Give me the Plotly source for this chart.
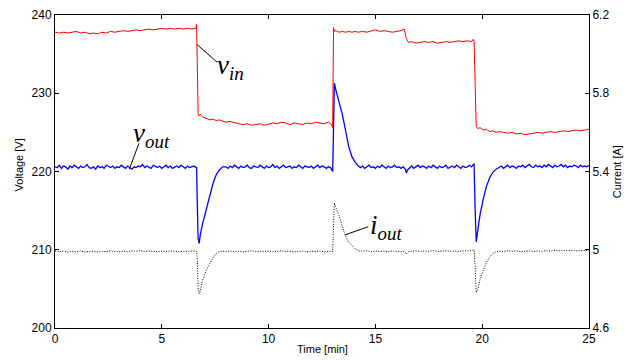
import plotly.graph_objects as go

# sample times [min] for v_in and i_out
t = [0.0, 0.2, 0.4, 0.6, 0.8, 1.0, 1.2, 1.4, 1.6, 1.8, 2.0, 2.2, 2.4, 2.6, 2.8, 3.0, 3.2, 3.4, 3.6, 3.8,
     4.0, 4.2, 4.4, 4.6, 4.8, 5.0, 5.2, 5.4, 5.6, 5.8, 6.0, 6.2, 6.4, 6.6,
     6.63, 6.66, 6.7, 6.75, 6.8, 6.9, 7.0, 7.1, 7.25, 7.4, 7.55, 7.7, 7.85,
     8.0, 8.2, 8.4, 8.6, 8.8, 9.0, 9.2, 9.4, 9.6, 9.8, 10.0, 10.2, 10.4, 10.6, 10.8, 11.0, 11.2, 11.4,
     11.6, 11.8, 12.0, 12.2, 12.4, 12.6, 12.8,
     12.95, 13.0, 13.04, 13.08, 13.15, 13.3, 13.45, 13.6, 13.75, 13.9, 14.05, 14.2,
     14.4, 14.6, 14.8, 15.0, 15.2, 15.4, 15.6, 15.8, 16.0, 16.2,
     16.35, 16.45, 16.55,
     16.7, 16.9, 17.1, 17.3, 17.5, 17.7, 17.9, 18.1, 18.3, 18.5, 18.7, 18.9, 19.1, 19.3, 19.5,
     19.58, 19.62, 19.66, 19.72, 19.8, 19.9, 20.05, 20.2, 20.35, 20.5, 20.65,
     20.8, 21.0, 21.2, 21.4, 21.6, 21.8, 22.0, 22.2, 22.4, 22.6, 22.8, 23.0, 23.2, 23.4, 23.6, 23.8,
     24.0, 24.2, 24.4, 24.6, 24.8, 25.0]

# input voltage [V]
v_in = [237.8, 237.7, 237.8, 237.7, 237.8, 237.9, 237.7, 237.8, 237.6, 237.7, 237.6, 237.8, 237.7, 237.9,
        237.8, 237.9, 238.0, 237.9, 238.0, 238.1, 238.0, 238.1, 238.2, 238.1, 238.2, 238.3, 238.2, 238.3,
        238.2, 238.3, 238.2, 238.3, 238.2, 238.3,
        238.8, 231.0, 227.4, 227.1, 227.3, 227.0, 226.9, 226.8, 226.6, 226.7, 226.5, 226.6, 226.4,
        226.3, 226.4, 226.2, 226.1, 226.0, 226.1, 225.9, 226.0, 226.1, 225.9, 226.1, 226.2, 226.1, 226.3,
        226.2, 226.0, 226.2, 226.1, 226.0, 226.2, 226.1, 226.3, 226.2, 226.1, 226.3,
        226.0, 225.6, 238.4, 237.9, 238.0, 237.8, 237.9, 237.8, 237.9, 237.8, 237.9, 237.8,
        237.9, 237.8, 238.0, 238.1, 237.9, 238.0, 237.9, 237.8, 237.9, 238.0,
        238.2, 237.0, 236.5,
        236.6, 236.4, 236.5, 236.6, 236.5, 236.6, 236.4, 236.5, 236.6, 236.5, 236.6, 236.7, 236.6, 236.7, 236.6,
        236.9, 236.6, 230.0, 225.7, 225.5, 225.6, 225.3, 225.4, 225.1, 225.2, 225.0,
        225.1, 225.0, 224.9, 225.0, 224.8, 224.9, 224.7, 224.8, 224.9, 225.0, 224.9, 225.0, 225.1, 225.0,
        225.1, 225.2, 225.1, 225.2, 225.3, 225.2, 225.3, 225.4]

# output current [A]
i_out = [4.995, 4.990, 4.993, 4.988, 4.992, 4.990, 4.994, 4.989, 4.991, 4.993, 4.988, 4.992, 4.990, 4.994,
         4.991, 4.989, 4.993, 4.990, 4.995, 4.992, 4.996, 4.991, 4.994, 4.992, 4.990, 4.993, 4.991, 4.994,
         4.992, 4.990, 4.993, 4.991, 4.994, 4.993,
         4.992, 4.950, 4.800, 4.775, 4.790, 4.840, 4.875, 4.900, 4.930, 4.960, 4.982, 4.990, 4.993,
         4.991, 4.994, 4.990, 4.993, 4.989, 4.992, 4.995, 4.990, 4.993, 4.991, 4.994, 4.990, 4.992, 4.995,
         4.991, 4.993, 4.989, 4.992, 4.994, 4.990, 4.993, 4.991, 4.994, 4.990, 4.992,
         4.991, 4.990, 5.150, 5.240, 5.215, 5.175, 5.120, 5.070, 5.040, 5.020, 5.005, 4.995,
         4.992, 4.995, 4.990, 4.994, 4.991, 4.993, 4.990, 4.994, 4.992, 4.990,
         4.993, 4.978, 4.990,
         4.993, 4.995, 4.991, 4.994, 4.992, 4.996, 4.991, 4.993, 4.995, 4.992, 4.994, 4.991, 4.995, 4.993, 4.996,
         4.998, 5.000, 4.930, 4.780, 4.800, 4.850, 4.895, 4.935, 4.962, 4.980, 4.990,
         4.993, 4.991, 4.995, 4.992, 4.994, 4.990, 4.993, 4.995, 4.991, 4.994, 4.992, 4.996, 4.993, 4.997,
         4.994, 4.998, 4.995, 4.997, 4.994, 4.996, 4.995, 4.997]

# sample times [min] for v_out (denser, it is noisier)
t_out = [0.0, 0.1, 0.2, 0.3, 0.4, 0.5, 0.6, 0.7, 0.8, 0.9, 1.0, 1.1, 1.2, 1.3, 1.4, 1.5, 1.6, 1.7, 1.8, 1.9,
         2.0, 2.1, 2.2, 2.3, 2.4, 2.5, 2.6, 2.7, 2.8, 2.9, 3.0, 3.1, 3.2, 3.3, 3.4, 3.5, 3.6, 3.7, 3.8, 3.9,
         4.0, 4.1, 4.2, 4.3, 4.4, 4.5, 4.6, 4.7, 4.8, 4.9, 5.0, 5.1, 5.2, 5.3, 5.4, 5.5, 5.6, 5.7, 5.8, 5.9,
         6.0, 6.1, 6.2, 6.3, 6.4, 6.5, 6.6,
         6.63, 6.66, 6.7, 6.75, 6.8, 6.9, 7.0, 7.1, 7.25, 7.4, 7.55, 7.7, 7.85,
         8.0, 8.1, 8.2, 8.3, 8.4, 8.5, 8.6, 8.7, 8.8, 8.9, 9.0, 9.1, 9.2, 9.3, 9.4, 9.5, 9.6, 9.7, 9.8, 9.9,
         10.0, 10.1, 10.2, 10.3, 10.4, 10.5, 10.6, 10.7, 10.8, 10.9, 11.0, 11.1, 11.2, 11.3, 11.4, 11.5,
         11.6, 11.7, 11.8, 11.9, 12.0, 12.1, 12.2, 12.3, 12.4, 12.5, 12.6, 12.7, 12.8, 12.9,
         13.0, 13.04, 13.08, 13.15, 13.3, 13.45, 13.6, 13.75, 13.9, 14.05, 14.2,
         14.3, 14.4, 14.5, 14.6, 14.7, 14.8, 14.9, 15.0, 15.1, 15.2, 15.3, 15.4, 15.5, 15.6, 15.7, 15.8,
         15.9, 16.0, 16.1, 16.2, 16.3,
         16.4, 16.45, 16.5,
         16.6, 16.7, 16.8, 16.9, 17.0, 17.1, 17.2, 17.3, 17.4, 17.5, 17.6, 17.7, 17.8, 17.9, 18.0, 18.1,
         18.2, 18.3, 18.4, 18.5, 18.6, 18.7, 18.8, 18.9, 19.0, 19.1, 19.2, 19.3, 19.4, 19.5,
         19.58, 19.62, 19.66, 19.72, 19.8, 19.9, 20.05, 20.2, 20.35, 20.5, 20.65,
         20.8, 20.9, 21.0, 21.1, 21.2, 21.3, 21.4, 21.5, 21.6, 21.7, 21.8, 21.9, 22.0, 22.1, 22.2, 22.3,
         22.4, 22.5, 22.6, 22.7, 22.8, 22.9, 23.0, 23.1, 23.2, 23.3, 23.4, 23.5, 23.6, 23.7, 23.8, 23.9,
         24.0, 24.1, 24.2, 24.3, 24.4, 24.5, 24.6, 24.7, 24.8, 24.9, 25.0]

# output voltage [V]
v_out = [220.6, 220.5, 220.8, 220.4, 220.7, 220.6, 220.3, 220.7, 220.5, 220.8,
         220.6, 220.4, 220.7, 220.5, 220.6, 220.9, 220.5, 220.4, 220.6, 220.3,
         220.7, 220.5, 220.6, 220.4, 220.8, 220.6, 220.5, 220.7, 220.4, 220.6,
         220.5, 220.8, 220.6, 220.4, 220.7, 220.5, 220.3, 220.6, 220.5, 220.7,
         220.6, 220.9, 220.5, 220.7, 220.6, 220.4, 220.8, 220.6, 220.5, 220.7,
         220.4, 220.6, 220.8, 220.5, 220.7, 220.4, 220.6, 220.7, 220.5, 220.8,
         220.6, 220.4, 220.7, 220.5, 220.6, 220.7, 220.5,
         220.5, 216.0, 211.5, 210.8, 211.9, 213.2, 214.3, 215.2, 216.9, 218.5, 219.6, 220.2, 220.6,
         220.6, 220.4, 220.7, 220.5, 220.8, 220.6, 220.4, 220.7, 220.5, 220.6,
         220.8, 220.5, 220.4, 220.7, 220.6, 220.5, 220.8, 220.6, 220.4, 220.7,
         220.5, 220.6, 220.9, 220.5, 220.7, 220.4, 220.6, 220.8, 220.5, 220.6,
         220.7, 220.4, 220.6, 220.5, 220.8, 220.6, 220.4, 220.7, 220.6, 220.5,
         220.7, 220.4, 220.6, 220.8, 220.5, 220.7, 220.6, 220.4, 220.6, 220.5,
         220.0, 228.0, 231.3, 230.4, 229.0, 227.3, 225.3, 223.2, 221.9, 221.2, 220.7,
         220.5, 220.7, 220.4, 220.6, 220.8, 220.5, 220.6, 220.4, 220.7, 220.5,
         220.8, 220.6, 220.4, 220.7, 220.5, 220.6, 220.8, 220.5, 220.6, 220.4, 220.6,
         220.3, 219.8, 220.2,
         220.5, 220.7, 220.4, 220.6, 220.8, 220.5, 220.7, 220.6, 220.4, 220.7,
         220.5, 220.8, 220.6, 220.4, 220.7, 220.5, 220.6, 220.8, 220.4, 220.6,
         220.7, 220.5, 220.8, 220.6, 220.4, 220.7, 220.5, 220.6, 220.8, 220.6,
         220.8, 221.0, 216.0, 211.0, 212.6, 214.5, 216.5, 218.1, 219.2, 219.9, 220.3,
         220.5, 220.7, 220.4, 220.6, 220.8, 220.5, 220.7, 220.6, 220.4, 220.7,
         220.6, 220.8, 220.5, 220.7, 220.9, 220.6, 220.5, 220.8, 220.6, 220.7,
         220.5, 220.8, 220.6, 220.9, 220.7, 220.5, 220.8, 220.6, 220.7, 220.9,
         220.6, 220.8, 220.5, 220.7, 220.6, 220.8, 220.7, 220.5, 220.8, 220.6,
         220.7, 220.6, 220.8]

x_ticks = [0, 5, 10, 15, 20, 25]
v_ticks = [200, 210, 220, 230, 240]
i_ticks = [4.6, 5.0, 5.4, 5.8, 6.2]
i_tick_labels = ["4.6", "5", "5.4", "5.8", "6.2"]

font_sans = "Liberation Sans, Arial, sans-serif"
font_serif = "Liberation Serif, Times New Roman, serif"

fig = go.Figure()
fig.add_trace(go.Scatter(x=t, y=v_in, mode="lines", line=dict(color="#ff0000", width=1),
                         name="v_in", showlegend=False))
fig.add_trace(go.Scatter(x=t_out, y=v_out, mode="lines", line=dict(color="#0000ff", width=1.3),
                         name="v_out", showlegend=False))
fig.add_trace(go.Scatter(x=t, y=i_out, mode="lines", yaxis="y2",
                         line=dict(color="#000000", width=1, dash="1px,1.5px"),
                         name="i_out", showlegend=False))

# leader lines to labels
leaders = [
    (6.66, 236.2, 7.60, 233.95),
    (3.48, 220.3, 3.93, 223.6),
    (13.58, 211.9, 14.67, 212.95),
]
for x0, y0, x1, y1 in leaders:
    fig.add_shape(type="line", xref="x", yref="y", x0=x0, y0=y0, x1=x1, y1=y1,
                  line=dict(color="black", width=1))

labels = [
    ("<i>v<sub>in</sub></i>", 8.2, 233.4),
    ("<i>v<sub>out</sub></i>", 4.5, 224.7),
    ("<i>i<sub>out</sub></i>", 15.5, 212.9),
]
for txt, x, y in labels:
    fig.add_annotation(text=txt, x=x, y=y, xref="x", yref="y", showarrow=False,
                       xanchor="center", yanchor="middle",
                       font=dict(family=font_serif, size=27, color="black"))

title_font = dict(family=font_sans, size=11, color="black")
fig.add_annotation(text="Voltage [V]", xref="paper", yref="paper", x=-0.067, y=0.52,
                   xanchor="center", yanchor="middle",
                   textangle=-90, showarrow=False, font=title_font)
fig.add_annotation(text="Current [A]", xref="paper", yref="paper", x=1.052, y=0.5,
                   xanchor="center", yanchor="middle",
                   textangle=-90, showarrow=False, font=title_font)
fig.add_annotation(text="Time [min]", xref="paper", yref="paper", x=0.5, y=-0.067,
                   xanchor="center", yanchor="middle", showarrow=False, font=title_font)

axis_common = dict(showgrid=False, zeroline=False, showline=True, linecolor="black", linewidth=1,
                   ticks="inside", ticklen=4, tickcolor="black", automargin=False,
                   tickfont=dict(family=font_sans, size=12, color="black"))

fig.update_layout(
    width=624, height=362,
    margin=dict(l=55, r=35, t=15, b=34),
    paper_bgcolor="white", plot_bgcolor="white",
    xaxis=dict(range=[0, 25], tickvals=x_ticks, mirror="ticks", **axis_common),
    yaxis=dict(range=[200, 240], tickvals=v_ticks, **axis_common),
    yaxis2=dict(range=[4.6, 6.2], tickvals=i_ticks, ticktext=i_tick_labels, overlaying="y", side="right",
                **axis_common),
)

fig.write_html("out.html", config={"displayModeBar": False},
               post_script="document.body.style.margin='0px';document.body.style.overflow='hidden';")
